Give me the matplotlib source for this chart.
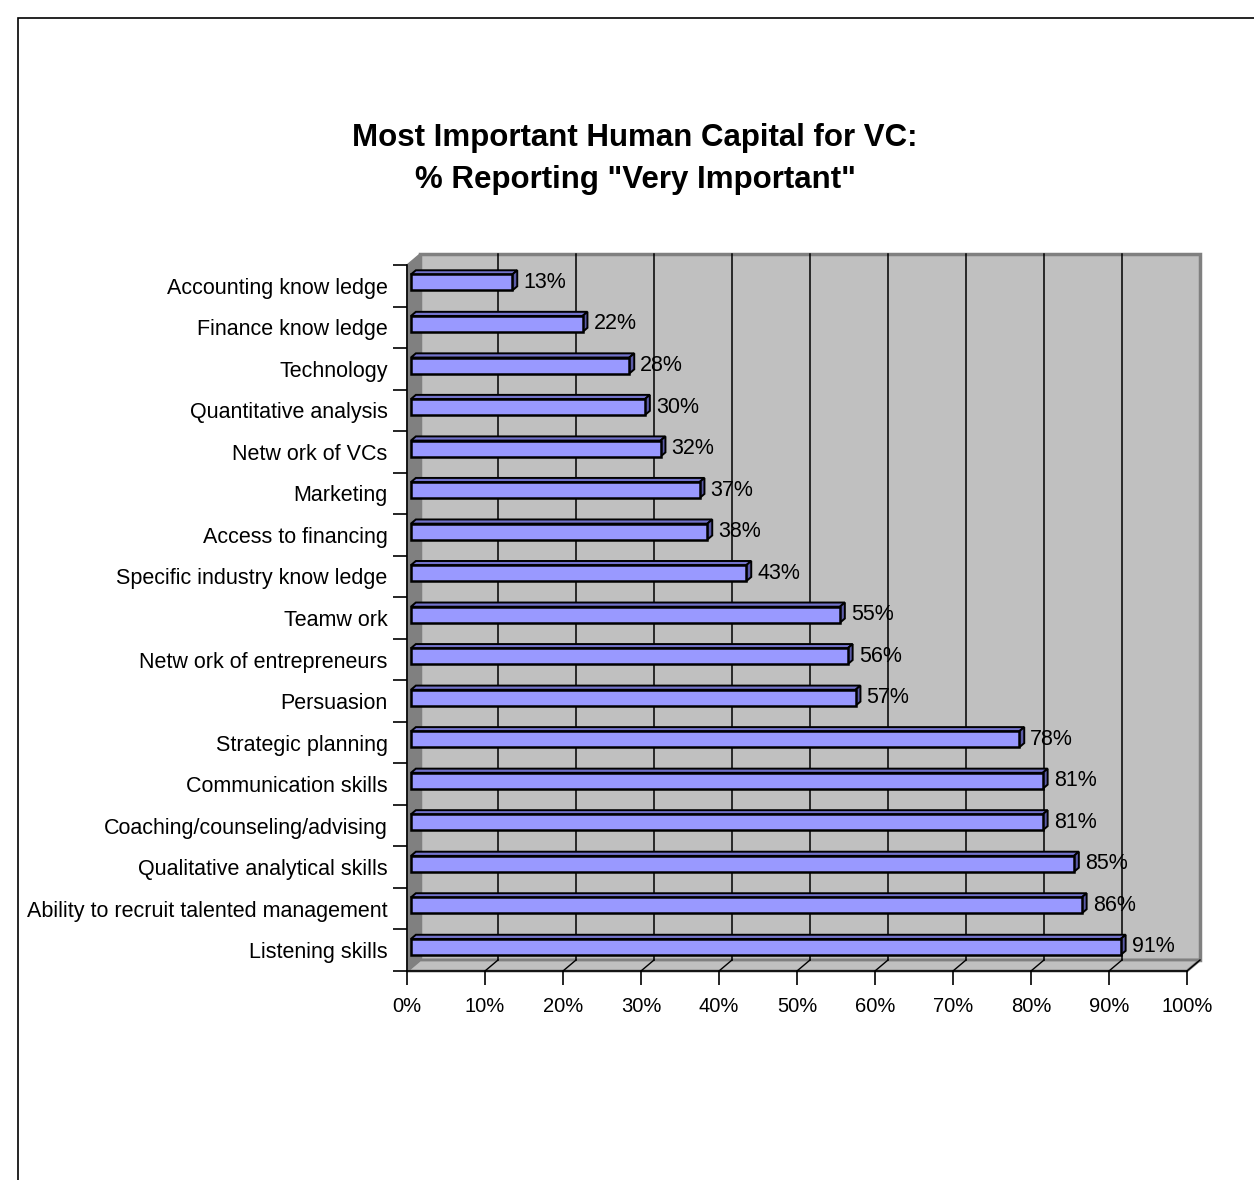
import matplotlib
matplotlib.use("Agg")
import matplotlib.pyplot as plt
from matplotlib.patches import Polygon, Rectangle

plt.rcParams['font.family'] = ['Liberation Sans', 'DejaVu Sans']

# ---- data (top to bottom as displayed) ----
categories = [
    "Accounting know ledge", "Finance know ledge", "Technology",
    "Quantitative analysis", "Netw ork of VCs", "Marketing",
    "Access to financing", "Specific industry know ledge", "Teamw ork",
    "Netw ork of entrepreneurs", "Persuasion", "Strategic planning",
    "Communication skills", "Coaching/counseling/advising",
    "Qualitative analytical skills", "Ability to recruit talented management",
    "Listening skills",
]
values = [13, 22, 28, 30, 32, 37, 38, 43, 55, 56, 57, 78, 81, 81, 85, 86, 91]
x_ticks = [0, 10, 20, 30, 40, 50, 60, 70, 80, 90, 100]
title = 'Most Important Human Capital for VC:\n% Reporting "Very Important"'

W, H = 1254, 1180
fig = plt.figure(figsize=(W / 100, H / 100), dpi=100)
fig.patch.set_facecolor('white')

# outer chart frame
fig.patches.append(Rectangle((18 / W, -0.05), 1.2, (H - 18) / H + 0.05,
                             transform=fig.transFigure, fill=False,
                             edgecolor='black', linewidth=1.2))

# plot area (front plane)
x0p, x1p, y0p, y1p = 407, 1187, 971, 265
ax = fig.add_axes([x0p / W, (H - y0p) / H, (x1p - x0p) / W, (y0p - y1p) / H])
ax.set_facecolor('none')
n = len(categories)
ax.set_xlim(0, 100)
ax.set_ylim(-0.5, n - 0.5)

# depth offsets in data units
DX = 13 / ((x1p - x0p) / 100)
DY = 11 / ((y0p - y1p) / n)
yb, yt = -0.5, n - 0.5

wall_c = '#C0C0C0'
side_c = '#808080'
# back wall
ax.add_patch(Polygon([(DX, yb + DY), (100 + DX, yb + DY), (100 + DX, yt + DY), (DX, yt + DY)],
                     closed=True, facecolor=wall_c, edgecolor=side_c, linewidth=2.5,
                     clip_on=False, zorder=0.5))
# floor
ax.add_patch(Polygon([(0, yb), (100, yb), (100 + DX, yb + DY), (DX, yb + DY)],
                     closed=True, facecolor=wall_c, edgecolor=side_c, linewidth=2.0,
                     clip_on=False, zorder=0.6))
# left side wall
ax.add_patch(Polygon([(0, yb), (DX, yb + DY), (DX, yt + DY), (0, yt)],
                     closed=True, facecolor=side_c, edgecolor=side_c, linewidth=1,
                     clip_on=False, zorder=0.6))
# gridlines on back wall and floor
for t in x_ticks[1:-1]:
    ax.plot([t + DX, t + DX], [yb + DY, yt + DY], color='black', linewidth=1.1,
            clip_on=False, zorder=0.7)
for t in x_ticks[1:]:
    ax.plot([t, t + DX], [yb, yb + DY], color='black', linewidth=1.0,
            clip_on=False, zorder=0.7)

# bars
f1, f2 = 0.3, 0.68
h = 0.385
front_c, top_c, sidebar_c = '#9999FF', '#7373CC', '#5C5CA8'
for i, (cat, v) in enumerate(zip(categories, values)):
    p = n - 1 - i
    xf0, xf1 = f1 * DX, v + f1 * DX
    xb0, xb1 = f2 * DX, v + f2 * DX
    yfb, yft = p - h / 2 + f1 * DY, p + h / 2 + f1 * DY
    ybb, ybt = p - h / 2 + f2 * DY, p + h / 2 + f2 * DY
    ax.add_patch(Polygon([(xf0, yft), (xf1, yft), (xb1, ybt), (xb0, ybt)],
                         facecolor=top_c, edgecolor='black', linewidth=1.4,
                         clip_on=False, zorder=2, joinstyle='miter'))
    ax.add_patch(Polygon([(xf1, yfb), (xb1, ybb), (xb1, ybt), (xf1, yft)],
                         facecolor=sidebar_c, edgecolor='black', linewidth=1.4,
                         clip_on=False, zorder=2, joinstyle='miter'))
    ax.add_patch(Polygon([(xf0, yfb), (xf1, yfb), (xf1, yft), (xf0, yft)],
                         facecolor=front_c, edgecolor='black', linewidth=1.8,
                         clip_on=False, zorder=2.1, joinstyle='miter'))
    ax.annotate(f"{v}%", (xf1, p + f1 * DY), xytext=(11, 0), textcoords='offset pixels',
                ha='left', va='center', fontsize=15.5, color='black', zorder=3,
                annotation_clip=False)

# axes styling
for s in ['top', 'right']:
    ax.spines[s].set_visible(False)
for s in ['left', 'bottom']:
    ax.spines[s].set_color('black')
    ax.spines[s].set_linewidth(1.2)
ax.set_xticks(x_ticks)
ax.set_xticklabels([f"{t}%" for t in x_ticks], fontsize=14.5)
ax.tick_params(axis='x', direction='out', length=10, width=1.2, pad=9)
ax.set_yticks(range(n))
ax.set_yticklabels(categories[::-1], fontsize=15.5)
ax.tick_params(axis='y', which='major', length=0, pad=14)
ax.set_yticks([k - 0.5 for k in range(n + 1)], minor=True)
ax.tick_params(axis='y', which='minor', direction='out', length=10, width=1.2)

fig.text(635 / W, 1 - 159 / H, title, ha='center', va='center', fontsize=22.5,
         fontweight='bold', linespacing=1.55)

fig.savefig('out.png', dpi=100)
